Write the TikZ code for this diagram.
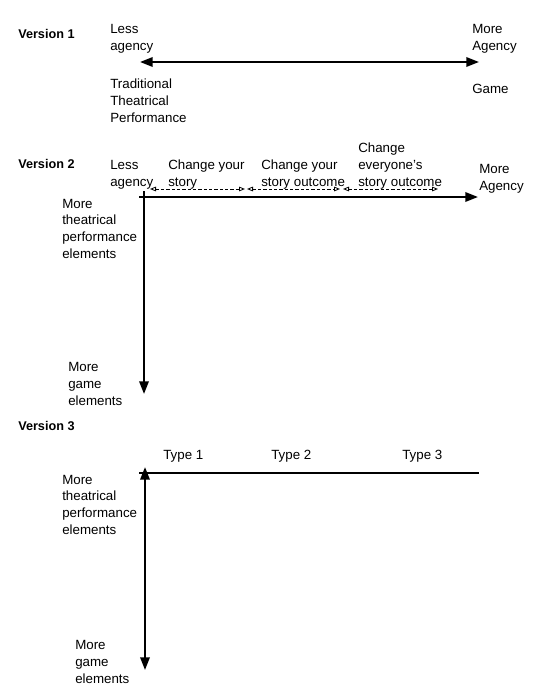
\documentclass[tikz,border=0pt]{standalone}
\usepackage{fontspec}
\setmainfont{Liberation Sans}
\usetikzlibrary{arrows.meta}
\begin{document}
\begin{tikzpicture}[x=0.75pt,y=-0.75pt,
  >={Triangle[length=9.5pt,width=7pt]},
  lbl/.style={anchor=base west,inner sep=0pt,align=left,font=\fontsize{10}{12.4}\selectfont},
  ver/.style={anchor=base west,inner sep=0pt,font=\fontsize{9.5}{12}\selectfont\bfseries},
  axis/.style={line width=1.7pt},
  dashline/.style={line width=0.6pt,dash pattern=on 2.4pt off 1.6pt,{Triangle[open,length=4.5pt,width=3.5pt]}-{Triangle[open,length=4.5pt,width=3.5pt]}}]
\useasboundingbox (0,0) rectangle (547,696);
% Version 1
\node[ver] (v1) at (18,38) {Version 1};
\node[lbl] (l1) at (110,50) {Less\\agency};
\node[lbl] (m1) at (472,50) {More\\Agency};
\node[lbl] (t1) at (110,122) {Traditional\\Theatrical\\Performance};
\node[lbl] (g1) at (472,93) {Game};
\coordinate (a1l) at (140,62);
\coordinate (a1r) at (479,62);
\draw[axis,<->] (a1l) -- (a1r);
% Version 2
\node[ver] (v2) at (18,168) {Version 2};
\node[lbl] (l2) at (110,186) {Less\\agency};
\node[lbl] (c2a) at (168,186) {Change your\\story};
\node[lbl] (c2b) at (261,186) {Change your\\story outcome};
\node[lbl] (c2c) at (358,186) {Change\\everyone’s\\story outcome};
\node[lbl] (m2) at (479,190) {More\\Agency};
\node[lbl] (p2) at (62,258) {More\\theatrical\\performance\\elements};
\node[lbl] (g2) at (68,405) {More\\game\\elements};
\coordinate (h2l) at (139,197);
\coordinate (h2r) at (478,197);
\coordinate (v2t) at (144,191);
\coordinate (v2b) at (144,394);
\draw[axis,->] (h2l) -- (h2r);
\draw[axis,->] (v2t) -- (v2b);
\coordinate (d1) at (150,189);
\coordinate (d2) at (245,189);
\coordinate (d3) at (247,189);
\coordinate (d4) at (340,189);
\coordinate (d5) at (343,189);
\coordinate (d6) at (438,189);
\draw[dashline] (d1) -- (d2);
\draw[dashline] (d3) -- (d4);
\draw[dashline] (d5) -- (d6);
% Version 3
\node[ver] (v3) at (18,430) {Version 3};
\node[lbl] (ty1) at (163,459) {Type 1};
\node[lbl] (ty2) at (271,459) {Type 2};
\node[lbl] (ty3) at (402,459) {Type 3};
\node[lbl] (p3) at (62,534) {More\\theatrical\\performance\\elements};
\node[lbl] (g3) at (75,683) {More\\game\\elements};
\coordinate (h3l) at (139,473);
\coordinate (h3r) at (479,473);
\coordinate (v3t) at (145,467);
\coordinate (v3b) at (145,670);
\draw[axis] (h3l) -- (h3r);
\draw[axis,<->] (v3t) -- (v3b);
\end{tikzpicture}
\end{document}
